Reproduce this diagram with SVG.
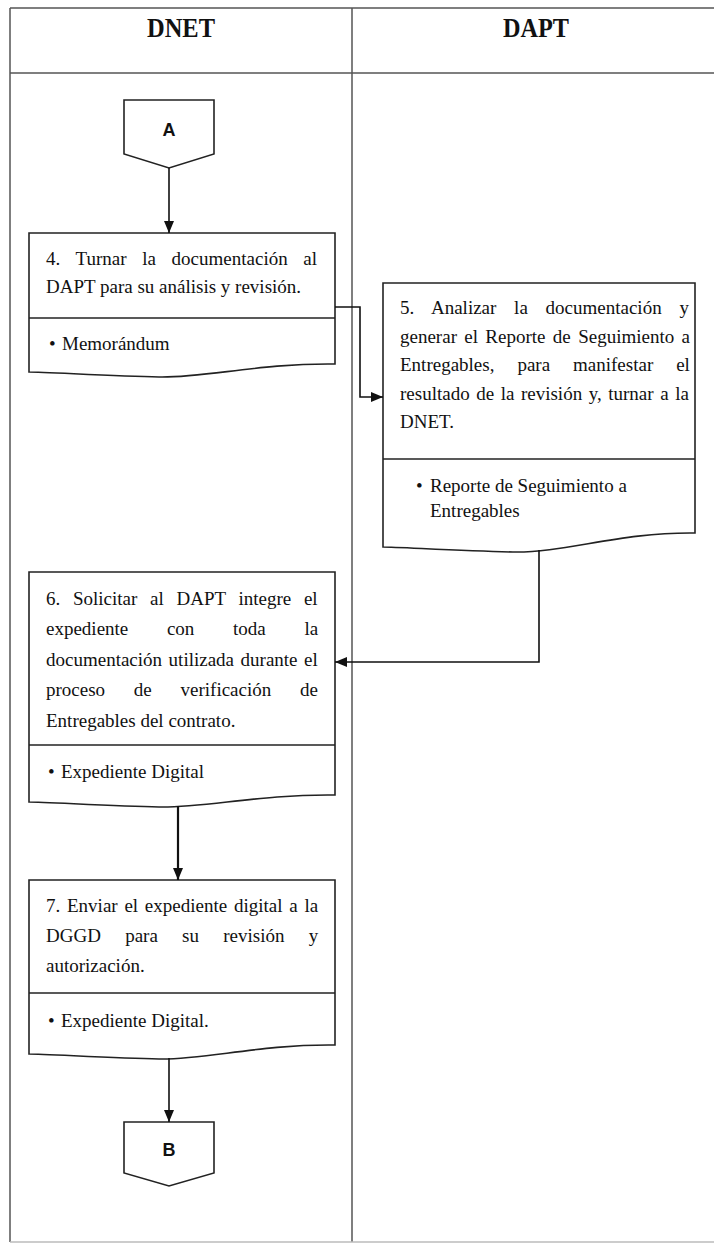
<svg xmlns="http://www.w3.org/2000/svg" width="714" height="1246" viewBox="0 0 714 1246">
  <defs>
    <marker id="arr" markerWidth="12" markerHeight="10" refX="12" refY="5" orient="auto" markerUnits="userSpaceOnUse">
      <path d="M0,0 L12,5 L0,10 Z" fill="#111"/>
    </marker>
    <style>
      .grid { stroke:#555; stroke-width:1.5; fill:none; }
      .edge { stroke:#bbb; stroke-width:1.5; fill:none; }
      .box { stroke:#222; stroke-width:1.6; fill:#fff; }
      .div { stroke:#222; stroke-width:1.6; }
      .link { stroke:#111; stroke-width:1.6; fill:none; marker-end:url(#arr); }
      .bold { stroke-width:2.2; }
      .t { font-family:"Liberation Serif","Times New Roman",serif; font-size:19px; fill:#111; }
      .hd { font-family:"Liberation Serif","Times New Roman",serif; font-size:27px; font-weight:bold; fill:#111; text-anchor:middle; }
      .cn { font-family:"Liberation Sans",Arial,sans-serif; font-size:18px; font-weight:bold; fill:#111; text-anchor:middle; }
    </style>
  </defs>
  <rect width="714" height="1246" fill="#fff"/>

  <!-- swimlane table -->
  <g id="lanes">
    <path class="grid" d="M10,8 H714 M10,73 H714 M10,8 V1242 M352,8 V1242"/>
    <path class="edge" d="M10,1242 H714"/>
    <text class="hd" x="181" y="37" textLength="68" lengthAdjust="spacingAndGlyphs">DNET</text>
    <text class="hd" x="536" y="37" textLength="66" lengthAdjust="spacingAndGlyphs">DAPT</text>
  </g>

  <!-- off-page connector A -->
  <g id="connA">
    <path class="box" d="M124,100 H214 V154 L169,168 L124,154 Z"/>
    <text class="cn" x="169" y="136">A</text>
  </g>

  <!-- step 4 -->
  <g id="step4">
    <path class="box" d="M29,233 H335 V364 C260,363 205,378 159,377 S44,372 29,372 Z"/>
    <line class="div" x1="29" y1="318" x2="335" y2="318"/>
    <text class="t" x="46" y="265" word-spacing="10.9">4. Turnar la documentación al</text>
    <text class="t" x="46" y="293">DAPT para su análisis y revisión.</text>
    <text class="t" x="49" y="350">•</text>
    <text class="t" x="62" y="350">Memorándum</text>
  </g>

  <!-- step 5 -->
  <g id="step5">
    <path class="box" d="M383,283 H695 V533 C620,532 565,553 513,552 S398,547 383,547 Z"/>
    <line class="div" x1="383" y1="459" x2="695" y2="459"/>
    <text class="t" x="400" y="314" word-spacing="13">5. Analizar la documentación y</text>
    <text class="t" x="400" y="343" word-spacing="2.6">generar el Reporte de Seguimiento a</text>
    <text class="t" x="400" y="371" word-spacing="18.2">Entregables, para manifestar el</text>
    <text class="t" x="400" y="400" word-spacing="1.8">resultado de la revisión y, turnar a la</text>
    <text class="t" x="400" y="428">DNET.</text>
    <text class="t" x="416" y="492">•</text>
    <text class="t" x="430" y="492">Reporte de Seguimiento a</text>
    <text class="t" x="430" y="517">Entregables</text>
  </g>

  <!-- step 6 -->
  <g id="step6">
    <path class="box" d="M29,572 H335 V795 C260,794 205,808 159,807 S44,802 29,802 Z"/>
    <line class="div" x1="29" y1="745" x2="335" y2="745"/>
    <text class="t" x="46" y="605" word-spacing="7.96">6. Solicitar al DAPT integre el</text>
    <text class="t" x="46" y="635" word-spacing="33.9">expediente con toda la</text>
    <text class="t" x="46" y="666" word-spacing="1.8">documentación utilizada durante el</text>
    <text class="t" x="46" y="696" word-spacing="24">proceso de verificación de</text>
    <text class="t" x="46" y="727">Entregables del contrato.</text>
    <text class="t" x="48" y="778">•</text>
    <text class="t" x="61" y="778">Expediente Digital</text>
  </g>

  <!-- step 7 -->
  <g id="step7">
    <path class="box" d="M29,880 H335 V1045 C260,1044 205,1060 159,1059 S44,1054 29,1054 Z"/>
    <line class="div" x1="29" y1="993" x2="335" y2="993"/>
    <text class="t" x="46" y="912" word-spacing="2">7. Enviar el expediente digital a la</text>
    <text class="t" x="46" y="942" word-spacing="19.5">DGGD para su revisión y</text>
    <text class="t" x="46" y="972">autorización.</text>
    <text class="t" x="48" y="1027">•</text>
    <text class="t" x="61" y="1027">Expediente Digital.</text>
  </g>

  <!-- off-page connector B -->
  <g id="connB">
    <path class="box" d="M124,1122 H214 V1173 L169,1186 L124,1173 Z"/>
    <text class="cn" x="169" y="1156">B</text>
  </g>

  <!-- flow connectors -->
  <g id="connectors">
    <path class="link" d="M169,168 V233"/>
    <path class="link" d="M335,307 H360 V397 H383"/>
    <path class="link" d="M539,550 V662 H335"/>
    <path class="link bold" d="M178,806 V880"/>
    <path class="link" d="M169,1058 V1122"/>
  </g>
</svg>
